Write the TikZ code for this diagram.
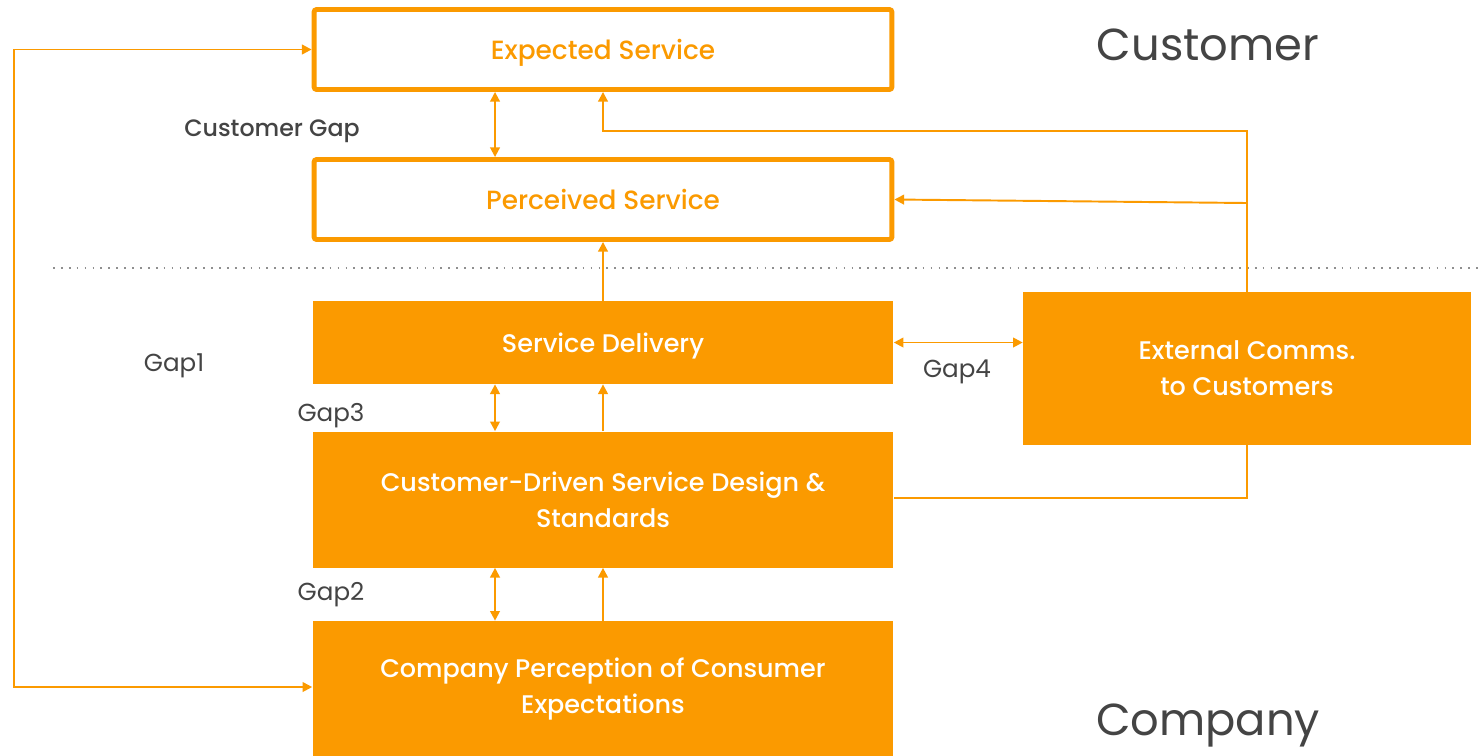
\documentclass[tikz,border=0pt]{standalone}
\usepackage{fontspec}
\setmainfont{Poppins}
\newfontfamily\medfont{Poppins Medium}
\usetikzlibrary{arrows.meta}
\definecolor{orng}{HTML}{FB9A00}
\definecolor{txtgray}{HTML}{444444}
\begin{document}
\begin{tikzpicture}
			[x=0.02cm,y=-0.02cm,
			>={Triangle[length=5.5pt,width=5.5pt]},
			outbox/.style={rectangle, rounded corners=1.5pt,
			draw=orng, line width=2.8pt, fill=white, text=orng,
			minimum width=11.56cm, minimum height=1.6cm,
			text height=1.2em, text depth=0.1em,
			font=\medfont\fontsize{15}{20}\selectfont},
			fillbox/.style={rectangle, fill=orng, text=white,
			align=center, inner sep=0pt, minimum width=11.62cm,
			font=\medfont\fontsize{14.5}{20.5}\selectfont},
			gaplbl/.style={text=txtgray, font=\fontsize{14}{16}\selectfont},
			bigtxt/.style={text=txtgray, font=\fontsize{25.5}{30}\selectfont},
			conn/.style={draw=orng, line width=1.1pt}]

			\fill[white] (0,0) rectangle (1484,755);
			\useasboundingbox (0,0) rectangle (1484,755);

			% customer side
			\node[outbox] (exp) at (603,49.5)  {Expected Service};
			\node[outbox] (per) at (603,199.5) {Perceived Service};

			% company side
			\node[fillbox, minimum height=1.66cm, text height=1.2em, text depth=0.1em] (sd) at (603,342.5) {Service Delivery};
			\node[fillbox, minimum width=8.96cm, minimum height=3.06cm] (ext) at (1247,368.5) {External Comms.\\to Customers};
			\node[fillbox, minimum height=2.72cm] (cds) at (603,499.5) {Customer-Driven Service Design \&\\Standards};
			\node[fillbox, minimum height=2.72cm] (cpc) at (603,689) {Company Perception of Consumer\\Expectations};

			% labels
			\node[bigtxt] (lcust) at (1208,45)  {Customer};
			\node[bigtxt] (lcomp) at (1208,725) {Company};
			\node[gaplbl, font=\medfont\fontsize{13.5}{15}\selectfont] (lcg) at (272,131) {Customer Gap};
			\node[gaplbl] (g1) at (174,366) {Gap1};
			\node[gaplbl] (g3) at (331,416) {Gap3};
			\node[gaplbl] (g2) at (331,595) {Gap2};
			\node[gaplbl] (g4) at (957,372) {Gap4};

			% separator
			\coordinate (sepl) at (53,268);
			\coordinate (sepr) at (1484,268);
			\draw[txtgray!60, line width=1pt, dash pattern=on 1pt off 3.5pt] (sepl) -- (sepr);

			% helper points
			\coordinate (lft) at (14,49.5);
			\coordinate (top) at (603,131);
			\coordinate (pin) at (1247,203);

			\draw[conn,<->] (exp.west) -- (lft) |- (cpc.west |- 0,687);
			\draw[conn,->] (ext.north) |- (top) -- (exp.south);
			\draw[conn,->] (pin) -- (per.east);
			\draw[conn] (ext.south) |- (cds.east |- 0,498);

			\foreach \from/\to in {sd/per,cds/sd,cpc/cds}
			\draw[conn,->] (\from.north) -- (\to.south);

			\foreach \up/\dn in {exp/per,sd/cds,cds/cpc}
			\draw[conn,<->] ([xshift=-2.16cm]\up.south) -- ([xshift=-2.16cm]\dn.north);

			\draw[conn,<->] (sd.east) -- (ext.west |- sd.east);
\end{tikzpicture}
\end{document}
